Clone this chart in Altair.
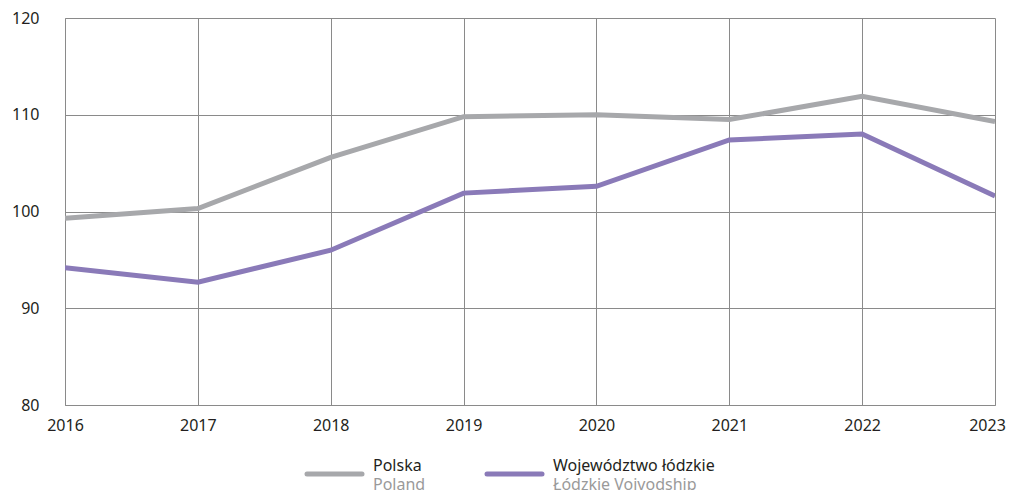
import altair as alt
import pandas as pd

years = [2016, 2017, 2018, 2019, 2020, 2021, 2022, 2023]
polska = [99.3, 100.3, 105.6, 109.8, 110.0, 109.5, 111.9, 109.3]
lodzkie = [94.2, 92.7, 96.0, 101.9, 102.6, 107.4, 108.0, 101.6]

series_names = ["Polska", "Województwo łódzkie"]
series_names_en = ["Poland", "Łódzkie Voivodship"]
series_colors = ["#a7a8ab", "#8a7ab8"]

rows = []
for y, v in zip(years, polska):
    rows.append({"year": y, "value": v, "series": series_names[0]})
for y, v in zip(years, lodzkie):
    rows.append({"year": y, "value": v, "series": series_names[1]})
df = pd.DataFrame(rows)

FONT = "Noto Sans"
GRID = "#8a8a8a"
TXT = "#231f20"

base = alt.Chart(df)

lines = base.mark_line(strokeWidth=5, clip=True).encode(
    x=alt.X(
        "year:Q",
        scale=alt.Scale(domain=[2016, 2023], nice=False, zero=False),
        axis=alt.Axis(
            values=years, format="d", title=None, grid=True, gridColor=GRID,
            gridWidth=1, gridOpacity=1, domainColor=GRID, domainWidth=1, ticks=False,
            labelFont=FONT, labelFontSize=16, labelColor=TXT, labelPadding=12,
            labelFlush=False,
            labelOffset=alt.expr("datum.value == 2023 ? -8 : 0"),
        ),
    ),
    y=alt.Y(
        "value:Q",
        scale=alt.Scale(domain=[80, 120], nice=False, zero=False),
        axis=alt.Axis(
            values=[80, 90, 100, 110, 120], title=None, grid=True, gridColor=GRID,
            gridWidth=1, gridOpacity=1, domainColor=GRID, domainWidth=1, ticks=False,
            labelFont=FONT, labelFontSize=16, labelColor=TXT, labelPadding=26,
        ),
    ),
    color=alt.Color(
        "series:N",
        scale=alt.Scale(domain=series_names, range=series_colors),
        legend=None,
    ),
)

legend_df = pd.DataFrame({"name": series_names, "name_en": series_names_en, "color": series_colors})

layers = [lines]
swatch_x = [242, 422]
for i in range(2):
    d = legend_df.iloc[[i]]
    sw = alt.Chart(d).mark_rule(strokeWidth=5, strokeCap="round", color=series_colors[i]).encode(
        x=alt.value(swatch_x[i]), x2=alt.value(swatch_x[i] + 55),
        y=alt.value(456), y2=alt.value(456),
    )
    t1 = alt.Chart(d).mark_text(
        align="left", baseline="alphabetic", font=FONT, fontSize=16, color=TXT
    ).encode(x=alt.value(swatch_x[i] + 66), y=alt.value(453), text="name:N")
    t2 = alt.Chart(d).mark_text(
        align="left", baseline="alphabetic", font=FONT, fontSize=16, color="#9a9a9a"
    ).encode(x=alt.value(swatch_x[i] + 66), y=alt.value(471.5), text="name_en:N")
    layers += [sw, t1, t2]

chart = alt.layer(*layers).properties(
    width=930,
    height=387,
    padding={"left": 57, "top": 10, "right": 12, "bottom": 85},
    autosize=alt.AutoSizeParams(type="none"),
    background="white",
).configure_view(stroke=None)

chart.save("out.html", embed_options={"renderer": "svg", "actions": False})
